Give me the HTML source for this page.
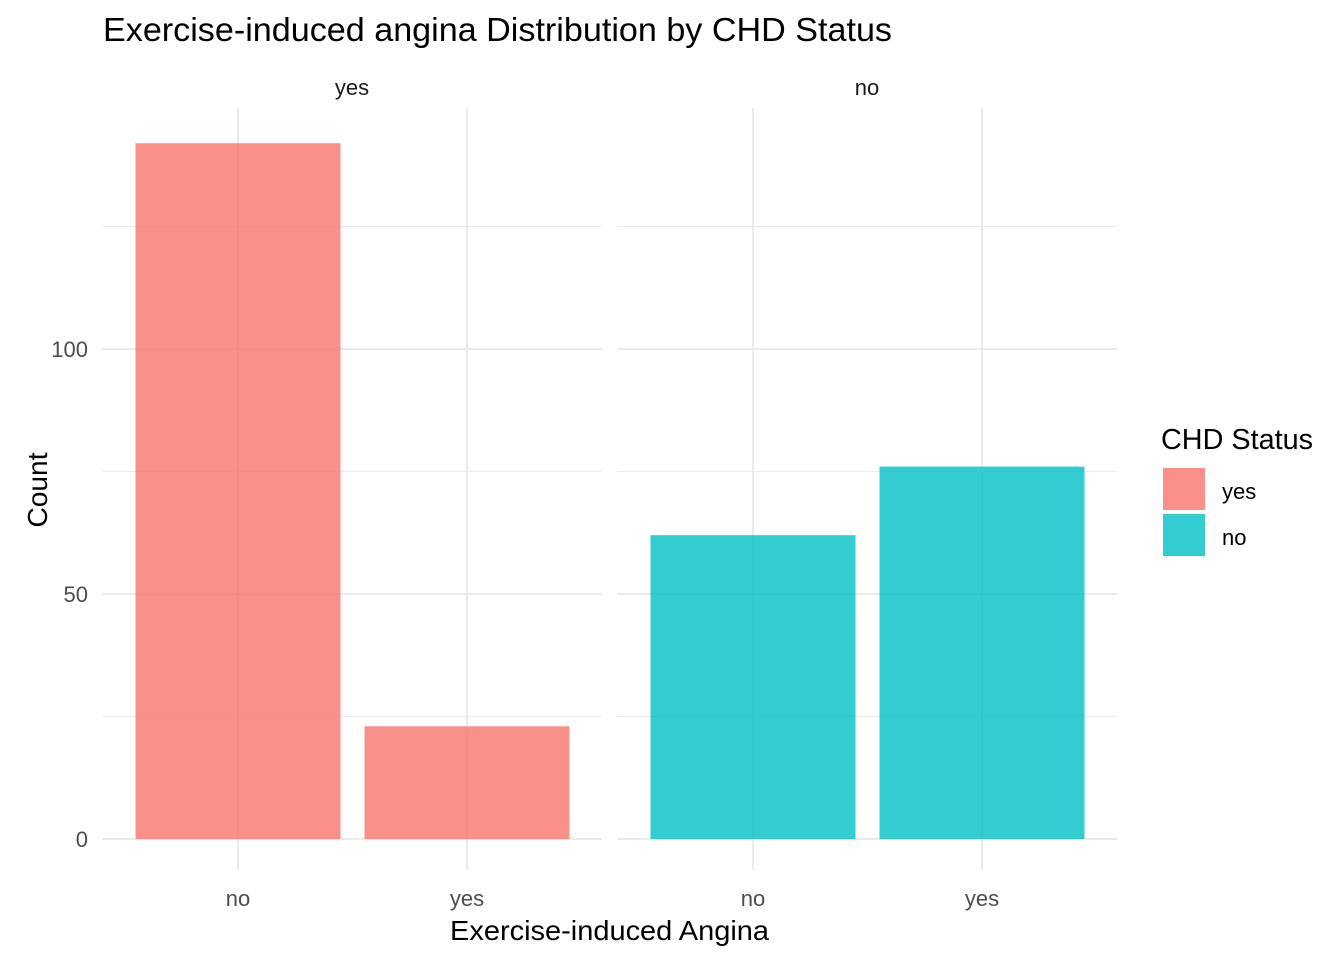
<!DOCTYPE html>
<html><head><meta charset="utf-8">
<style>
html,body{margin:0;padding:0;background:#fff;}
svg text{font-family:"Liberation Sans",Arial,sans-serif;}
</style></head>
<body>
<svg id="chart" width="1344" height="960" xmlns="http://www.w3.org/2000/svg">
<text x="103" y="41" font-size="33" textLength="789" lengthAdjust="spacingAndGlyphs" fill="#000">Exercise-induced angina Distribution by CHD Status</text>
<text x="38" y="499" font-size="28" textLength="75" lengthAdjust="spacingAndGlyphs" fill="#000" transform="rotate(-90 38 490)" text-anchor="middle">Count</text>
<text x="450" y="940" font-size="28" textLength="319" lengthAdjust="spacingAndGlyphs" fill="#000">Exercise-induced Angina</text>
<g id="panels"></g>
<text x="1161" y="449" font-size="29" textLength="152" lengthAdjust="spacingAndGlyphs" fill="#000">CHD Status</text>
<rect x="1163" y="468" width="42" height="42" fill="#F8766D" fill-opacity="0.8"/>
<text x="1222" y="499" font-size="22" fill="#000">yes</text>
<rect x="1163" y="514" width="42" height="42" fill="#00BFC4" fill-opacity="0.8"/>
<text x="1222" y="545" font-size="22" fill="#000">no</text>
</svg>
<script>
const panelNames = ["yes","no"];
const categories = ["no","yes"];
const countsYes = [142, 23];
const countsNo = [62, 76];
const yTicks = [0, 50, 100];
const yMinor = [25, 75, 125];

const colors = {yes:"#F8766D", no:"#00BFC4"};
const panelX = [102, 617], panelW = 500, pTop = 108, pBot = 870;
const y = v => 839 - v * 4.9;
const NS = "http://www.w3.org/2000/svg";
const g = document.getElementById("panels");
function mk(tag, attrs){const e=document.createElementNS(NS,tag);for(const k in attrs)e.setAttribute(k,attrs[k]);g.appendChild(e);return e;}
panelNames.forEach((pn, pi) => {
  const x0 = panelX[pi];
  const cx = i => x0 + 136 + i * 229;
  const vals = pi === 0 ? countsYes : countsNo;
  yMinor.forEach(t => {
    const l = mk("line",{x1:x0,x2:x0+panelW,y1:y(t),y2:y(t),stroke:"#ebebeb","stroke-width":1});
    
    
  });
  yTicks.forEach(t => {
    const l = mk("line",{x1:x0,x2:x0+panelW,y1:y(t),y2:y(t),stroke:"#ebebeb","stroke-width":2});
    
    
    if (pi === 0) {
      const tx = mk("text",{x:88,y:y(t)+8,"font-size":22,fill:"#4d4d4d","text-anchor":"end"});
      tx.textContent = t;
      
      
    }
  });
  categories.forEach((c, i) => {
    const l = mk("line",{x1:cx(i),x2:cx(i),y1:pTop,y2:pBot,stroke:"#ebebeb","stroke-width":2});
    
    
  });
  categories.forEach((c, i) => {
    const r = mk("rect",{x:cx(i)-102.5,width:205,y:y(vals[i]),height:y(0)-y(vals[i]),fill:colors[pn],"fill-opacity":0.8});
    
    
    const tx = mk("text",{x:cx(i),y:906,"font-size":22,fill:"#4d4d4d","text-anchor":"middle"});
    tx.textContent = c;
    
    
  });
  const st = mk("text",{x:x0+panelW/2,y:95,"font-size":22,fill:"#1a1a1a","text-anchor":"middle"});
  st.textContent = pn;
  
  
});
</script>
</body></html>
